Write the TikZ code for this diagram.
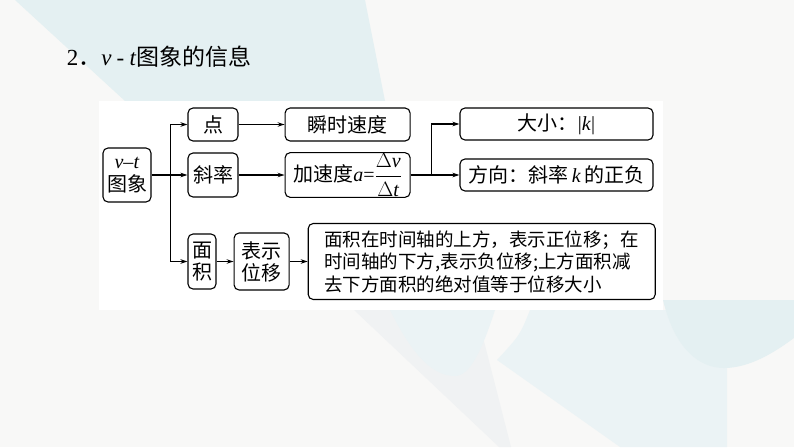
\documentclass[tikz,border=0pt]{standalone}
\usepackage{amsmath}
\usepackage{fontspec}
\setmainfont{Liberation Serif}
\newfontfamily\cjk{Noto Sans CJK SC}
\usetikzlibrary{arrows.meta, positioning}
\definecolor{bgpaper}{RGB}{248,248,247}
\definecolor{bgteal}{RGB}{228,240,242}
\definecolor{bgblue}{RGB}{235,243,245}
\definecolor{bggray}{RGB}{240,242,243}
\newcommand{\lit}[1]{\textrm{\itshape #1}}

\begin{document}
\begin{tikzpicture}[x=1pt, y=-1pt, >={Stealth[length=7pt,width=4.5pt]}, line width=1.1pt,
  box/.style={draw, rounded corners=5pt, fill=white, inner sep=2pt, align=center, font=\cjk\fontsize{20}{22}\selectfont}]
% background
\useasboundingbox (0,0) rectangle (794,447);
\fill[bgpaper] (0,0) rectangle (794,447);
\fill[bgteal] (15,0) -- (365,0) -- (385,101) -- (125,101) -- cycle;
\fill[bggray] (354,310) -- (476,310) -- (511,447) -- (499,447) -- cycle;
\fill[bgblue] (390,310) .. controls (410,350) and (430,376) .. (455,376) .. controls (470,376) and (482,350) .. (495,310) -- cycle;
\fill[bgblue] (530,310) .. controls (520,335) .. (497,360) -- (620,447) -- (727,447) -- (727,310) -- cycle;
\fill[bgteal] (663,300) .. controls (675,350) and (700,368) .. (724,368) .. controls (750,368) and (775,352) .. (794,338) -- (794,300) -- cycle;
\fill[white] (99,101) rectangle (663,310);

\node[anchor=base west, font=\cjk\fontsize{23}{25}\selectfont] (title) at (63,65) {\textrm{2}．\lit{v} \textrm{-} \lit{t}图象的信息};

% boxes
\node[box, minimum width=48pt, minimum height=54pt, inner sep=1pt] (vt) at (127,175) {\lit{v}\textrm{–}\lit{t}\\[1pt]图象};
\node[box, minimum width=50pt, minimum height=33pt] (dian) at (213,124.5) {点};
\node[box, minimum width=50pt, minimum height=44pt] (xielv) at (213,175) {斜率};
\node[box, minimum width=125pt, minimum height=33pt, right=46pt of dian] (shunshi) {瞬时速度};
\node[box, minimum width=125pt, minimum height=44pt, inner sep=1pt, right=46pt of xielv] (jiasudu) {加速度\lit{a}\textrm{=}$\dfrac{\Delta\lit{v}}{\Delta\lit{t}}$};
\coordinate[right=21pt of jiasudu] (fork);
\node[box, minimum width=193pt, minimum height=32pt] (daxiao) at (556.5,124) {大小：\textrm{|}\lit{k}\textrm{|}};
\node[box, minimum width=193pt, minimum height=32pt] (fangxiang) at (556.5,175) {方向：斜率\,\lit{k}\,的正负};
\node[box, minimum width=28pt, minimum height=55pt, inner sep=1pt] (mianji) at (202,261.5) {面\\积};
\node[box, minimum width=55pt, minimum height=57pt, right=17pt of mianji] (biaoshi) {表示\\位移};
\node[box, minimum width=347pt, minimum height=76pt, right=18pt of biaoshi, align=left, font=\cjk\fontsize{18.5}{22.5}\selectfont] (desc) {面积在时间轴的上方，表示正位移；在\\时间轴的下方,表示负位移;上方面积减\\去下方面积的绝对值等于位移大小};

% connectors
\coordinate[left=17pt of dian] (jt);
\coordinate (jb) at (jt |- mianji);
\draw (jt) -- (jb);
\draw[->] (jt) -- (dian);
\draw[->] (vt) -- (xielv);
\draw[->] (jb) -- (mianji);
\draw[->] (dian) -- (shunshi);
\draw[->] (xielv) -- (jiasudu);
\draw[->] (jiasudu) -- (fangxiang);
\draw[->] (fork) |- (daxiao);
\draw[->] (mianji) -- (biaoshi);
\draw[->] (biaoshi) -- (desc);
\end{tikzpicture}
\end{document}
